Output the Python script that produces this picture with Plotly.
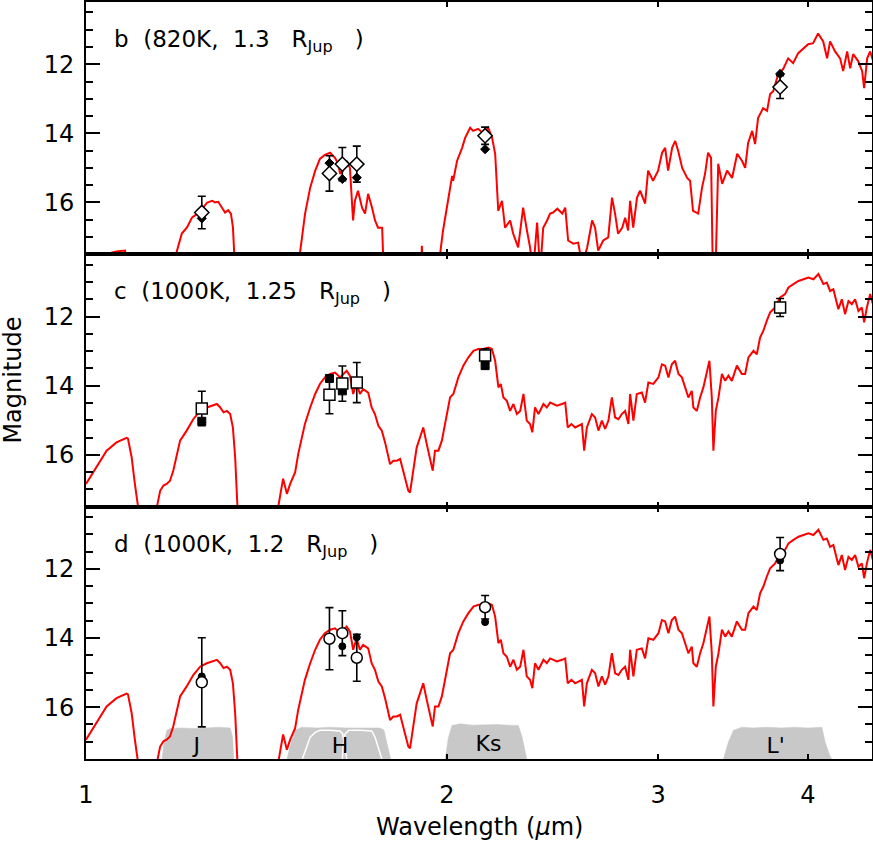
import plotly.graph_objects as go
from plotly.subplots import make_subplots

# ---------------- model spectra (wavelength in micron, magnitude) ----------------
wl_b = [1.000, 1.045, 1.051, 1.063, 1.078, 1.083, 1.185, 1.189, 1.202, 1.214,
        1.226, 1.238, 1.249, 1.262, 1.274, 1.281, 1.289, 1.299, 1.306, 1.314,
        1.321, 1.326, 1.331, 1.336, 1.503, 1.508, 1.523, 1.538, 1.553, 1.567,
        1.582, 1.598, 1.613, 1.623, 1.629, 1.638, 1.650, 1.660, 1.670, 1.676,
        1.686, 1.699, 1.709, 1.719, 1.732, 1.742, 1.752, 1.766, 1.769, 1.773,
        1.899, 1.906, 1.912, 1.970, 1.974, 1.985, 2.004, 2.020, 2.024, 2.039,
        2.059, 2.071, 2.091, 2.103, 2.123, 2.143, 2.165, 2.181, 2.194, 2.207,
        2.223, 2.236, 2.258, 2.271, 2.293, 2.315, 2.332, 2.346, 2.360, 2.378,
        2.392, 2.406, 2.424, 2.438, 2.452, 2.472, 2.496, 2.510, 2.524, 2.549,
        2.573, 2.593, 2.618, 2.643, 2.658, 2.674, 2.700, 2.726, 2.746, 2.762,
        2.778, 2.800, 2.816, 2.832, 2.843, 2.860, 2.881, 2.898, 2.926, 2.943,
        2.971, 3.000, 3.023, 3.041, 3.058, 3.082, 3.100, 3.118, 3.142, 3.172,
        3.190, 3.208, 3.240, 3.264, 3.283, 3.302, 3.321, 3.334, 3.347, 3.367,
        3.393, 3.425, 3.458, 3.492, 3.525, 3.546, 3.566, 3.594, 3.614, 3.635,
        3.670, 3.698, 3.720, 3.742, 3.778, 3.814, 3.851, 3.888, 3.926, 3.964,
        4.002, 4.040, 4.079, 4.119, 4.150, 4.174, 4.214, 4.255, 4.280, 4.313,
        4.338, 4.363, 4.405, 4.439, 4.456, 4.482, 4.508, 4.534]
mag_b = [19.0, 19.0, 17.45, 17.41, 17.39, 19.0, 19.0, 17.48, 16.90, 16.72,
         16.43, 16.33, 16.20, 16.00, 15.95, 16.00, 15.98, 16.15, 16.29, 16.22,
         16.33, 16.72, 17.48, 19.0, 19.0, 17.48, 16.32, 15.57, 15.08, 14.74,
         14.62, 14.56, 14.71, 14.88, 15.17, 15.08, 14.80, 15.00, 16.52, 15.95,
         15.66, 16.15, 16.32, 15.75, 16.15, 16.52, 16.73, 16.73, 17.48, 19.0,
         19.0, 17.25, 19.0, 19.0, 17.48, 16.81, 15.95, 15.23, 15.37, 14.80,
         14.42, 14.13, 13.84, 13.93, 13.87, 13.99, 13.84, 14.13, 14.59, 16.24,
         15.95, 16.73, 16.52, 16.90, 17.30, 16.15, 16.81, 17.30, 18.0, 16.58,
         18.0, 16.73, 16.52, 16.32, 16.29, 16.18, 16.32, 16.15, 17.10, 17.19,
         17.16, 17.8, 17.30, 16.52, 16.73, 17.39, 17.10, 17.01, 15.86, 16.32,
         16.90, 16.73, 16.44, 16.81, 15.95, 16.73, 15.86, 15.66, 16.03, 15.08,
         15.37, 15.08, 14.56, 14.42, 15.08, 14.42, 14.22, 14.51, 15.00, 15.29,
         15.37, 16.24, 16.32, 15.57, 15.17, 14.56, 14.71, 18.5, 18.5, 14.88,
         15.46, 15.08, 15.29, 14.59, 14.80, 15.00, 14.28, 13.93, 14.31, 13.56,
         13.27, 13.35, 12.86, 12.78, 12.29, 12.14, 11.83, 11.97, 11.68, 11.54,
         11.42, 11.39, 11.11, 11.34, 11.83, 11.34, 11.63, 11.83, 12.20, 11.63,
         12.12, 11.71, 11.91, 12.20, 12.69, 11.83, 11.63, 11.91]

wl_cd = [1.000, 1.0205, 1.0404, 1.0603, 1.0811, 1.0839, 1.0916, 1.0984, 1.1053, 1.110,
         1.142, 1.1457, 1.153, 1.1603, 1.1676, 1.175, 1.1824, 1.198, 1.2133, 1.2287,
         1.245, 1.261, 1.2732, 1.2858, 1.294, 1.3022, 1.3107, 1.319, 1.3259, 1.3317,
         1.3376, 1.342, 1.442, 1.4462, 1.4601, 1.4707, 1.480, 1.4942, 1.503, 1.513,
         1.5225, 1.538, 1.5528, 1.567, 1.582, 1.598, 1.6133, 1.629, 1.6393, 1.6495,
         1.660, 1.6705, 1.6813, 1.692, 1.7027, 1.7193, 1.7307, 1.7416, 1.7532, 1.7648,
         1.7759, 1.793, 1.8043, 1.8165, 1.828, 1.8395, 1.8569, 1.863, 1.8747, 1.887,
         1.899, 1.911, 1.9238, 1.936, 1.9461, 1.9546, 1.9675, 1.9805, 1.993, 2.012,
         2.0247, 2.0442, 2.0639, 2.0841, 2.1042, 2.124, 2.1444, 2.1658, 2.1802, 2.1939,
         2.2077, 2.2179, 2.229, 2.2438, 2.258, 2.2722, 2.2875, 2.302, 2.3165, 2.3312,
         2.346, 2.3563, 2.3685, 2.3841, 2.4071, 2.4226, 2.438, 2.4534, 2.4703, 2.4942,
         2.5099, 2.522, 2.540, 2.5583, 2.575, 2.5915, 2.6029, 2.6164, 2.6417, 2.6583,
         2.6751, 2.6929, 2.7098, 2.727, 2.745, 2.7623, 2.7798, 2.7982, 2.8158, 2.8336,
         2.843, 2.8609, 2.8797, 2.9076, 2.9258, 2.9443, 2.9726, 3.002, 3.0219, 3.0409,
         3.0599, 3.0801, 3.0995, 3.1197, 3.1403, 3.160, 3.1795, 3.2005, 3.2101, 3.2315,
         3.252, 3.2725, 3.2941, 3.3107, 3.3259, 3.3359, 3.3515, 3.3688, 3.3911, 3.4125,
         3.4336, 3.4564, 3.4899, 3.5236, 3.5457, 3.5682, 3.6026, 3.626, 3.649, 3.672,
         3.6966, 3.720, 3.7557, 3.792, 3.8284, 3.8532, 3.8904, 3.928, 3.9658, 4.0037,
         4.0423, 4.0815, 4.1208, 4.1477, 4.174, 4.2003, 4.241, 4.269, 4.2958, 4.3237,
         4.3523, 4.3796, 4.4074, 4.4366, 4.456, 4.4796, 4.508, 4.5314]
mag_c = [16.84, 16.36, 15.88, 15.64, 15.51, 15.53, 16.07, 16.84, 17.52, 18.5,
         18.5, 17.52, 17.04, 16.89, 16.84, 16.75, 16.46, 15.59, 15.30, 14.97,
         14.73, 14.63, 14.58, 14.53, 14.63, 14.77, 14.73, 14.82, 15.21, 16.08,
         17.52, 18.5, 18.5, 17.52, 16.69, 17.13, 16.84, 16.51, 15.98, 15.50,
         15.11, 14.63, 14.24, 13.95, 13.76, 13.66, 13.62, 13.76, 13.66, 13.57,
         13.71, 14.24, 13.91, 14.24, 14.10, 14.20, 14.63, 14.82, 15.16, 15.30,
         15.64, 16.27, 16.17, 16.17, 16.12, 16.46, 17.04, 17.09, 16.46, 15.79,
         15.50, 15.21, 15.69, 16.08, 16.46, 15.88, 15.88, 15.59, 15.11, 14.34,
         14.24, 13.76, 13.42, 13.18, 12.99, 12.94, 12.94, 12.90, 12.94, 13.28,
         14.05, 13.95, 14.34, 14.44, 14.73, 14.53, 14.82, 14.73, 14.24, 15.01,
         15.11, 15.35, 14.63, 14.82, 14.53, 14.63, 14.49, 14.53, 14.58, 14.53,
         14.49, 15.21, 15.11, 15.21, 15.15, 15.11, 15.88, 15.21, 14.82, 14.92,
         15.30, 15.01, 15.25, 15.01, 14.34, 14.92, 14.97, 14.82, 14.73, 15.11,
         14.24, 15.01, 14.24, 14.20, 14.49, 13.91, 13.95, 13.76, 13.38, 13.42,
         13.76, 13.38, 13.28, 13.66, 13.76, 14.05, 14.34, 14.15, 14.63, 14.73,
         14.34, 14.05, 13.66, 13.28, 14.34, 15.88, 14.73, 14.34, 13.66, 13.86,
         13.71, 13.86, 13.42, 13.66, 13.66, 13.18, 12.99, 13.09, 12.61, 12.41,
         12.12, 11.88, 11.74, 11.45, 11.35, 11.16, 11.06, 10.97, 10.92, 10.87,
         10.92, 10.77, 11.06, 11.02, 11.26, 11.21, 11.79, 11.50, 11.93, 11.55,
         11.64, 11.50, 11.84, 11.74, 12.17, 11.74, 11.35, 11.64]
mag_d = [16.94, 16.46, 15.98, 15.74, 15.61, 15.63, 16.17, 16.94, 17.62, 18.5,
         18.5, 17.62, 17.14, 16.99, 16.94, 16.85, 16.56, 15.69, 15.40, 15.07,
         14.83, 14.73, 14.68, 14.63, 14.73, 14.87, 14.83, 14.92, 15.31, 16.18,
         17.62, 18.5, 18.5, 17.62, 16.79, 17.23, 16.94, 16.61, 16.08, 15.60,
         15.21, 14.73, 14.34, 14.05, 13.86, 13.76, 13.72, 13.86, 13.76, 13.67,
         13.81, 14.34, 14.01, 14.34, 14.20, 14.30, 14.73, 14.92, 15.26, 15.40,
         15.74, 16.37, 16.27, 16.27, 16.22, 16.56, 17.14, 17.19, 16.56, 15.89,
         15.60, 15.31, 15.79, 16.18, 16.56, 15.98, 15.98, 15.69, 15.21, 14.44,
         14.34, 13.86, 13.52, 13.28, 13.09, 13.04, 13.04, 13.00, 13.04, 13.38,
         14.15, 14.05, 14.44, 14.54, 14.83, 14.63, 14.92, 14.83, 14.34, 15.11,
         15.21, 15.45, 14.73, 14.92, 14.63, 14.73, 14.59, 14.63, 14.68, 14.63,
         14.59, 15.31, 15.21, 15.31, 15.25, 15.21, 15.98, 15.31, 14.92, 15.02,
         15.40, 15.11, 15.35, 15.11, 14.44, 15.02, 15.07, 14.92, 14.83, 15.21,
         14.34, 15.11, 14.34, 14.30, 14.59, 14.01, 14.05, 13.86, 13.48, 13.52,
         13.86, 13.48, 13.38, 13.76, 13.86, 14.15, 14.44, 14.25, 14.73, 14.83,
         14.44, 14.15, 13.76, 13.38, 14.44, 15.98, 14.83, 14.44, 13.76, 13.96,
         13.81, 13.96, 13.52, 13.76, 13.76, 13.28, 13.09, 13.19, 12.71, 12.51,
         12.22, 11.98, 11.84, 11.55, 11.45, 11.26, 11.16, 11.07, 11.02, 10.97,
         11.02, 10.87, 11.16, 11.12, 11.36, 11.31, 11.89, 11.60, 12.03, 11.65,
         11.74, 11.60, 11.94, 11.84, 12.27, 11.84, 11.45, 11.74]

# ---------------- photometry ----------------
phot_wl = [1.249, 1.596, 1.636, 1.682, 2.152, 3.792]
b_open = [16.29, 15.16, 14.89, 14.89, 14.07, 12.66]
b_err = [0.47, 0.51, 0.48, 0.52, 0.25, 0.33]
b_fill = [16.46, 14.86, 15.32, 15.28, 14.46, 12.28]
c_open = [14.66, 14.26, 13.94, 13.91, 13.13, 11.74]
c_err = [0.50, 0.55, 0.51, 0.58, 0.20, 0.26]
c_fill = [15.03, 13.79, 14.15, 13.93, 13.42, 11.78]
d_open = [15.28, 14.02, 13.86, 14.57, 13.11, 11.57]
d_err = [1.29, 0.90, 0.65, 0.68, 0.34, 0.48]
d_fill = [15.11, 13.98, 14.24, 13.98, 13.54, 11.76]

# ---------------- filter profiles (panel d) ----------------
filt_J_wl = [1.157, 1.162, 1.168, 1.175, 1.20, 1.23, 1.26, 1.29, 1.319, 1.325, 1.328]
filt_J_mag = [17.5, 17.0, 16.67, 16.62, 16.60, 16.62, 16.60, 16.58, 16.60, 16.85, 17.5]
filt_H_wl = [1.471, 1.482, 1.494, 1.513, 1.560, 1.598, 1.650, 1.703, 1.759, 1.772, 1.781, 1.790, 1.795]
filt_H_mag = [17.5, 17.05, 16.67, 16.58, 16.60, 16.58, 16.60, 16.60, 16.60, 16.66, 16.97, 17.35, 17.5]
filt_H1_wl = [1.515, 1.528, 1.538, 1.553, 1.567, 1.598, 1.629, 1.637, 1.642, 1.648, 1.650]
filt_H1_mag = [17.5, 17.16, 16.87, 16.73, 16.67, 16.67, 16.69, 16.77, 17.06, 17.45, 17.5]
filt_H2_wl = [1.636, 1.639, 1.645, 1.657, 1.692, 1.731, 1.742, 1.753, 1.761, 1.765]
filt_H2_mag = [17.5, 17.06, 16.77, 16.67, 16.67, 16.69, 16.87, 17.20, 17.45, 17.5]
filt_K_wl = [1.993, 2.005, 2.019, 2.035, 2.051, 2.10, 2.15, 2.20, 2.25, 2.294, 2.310, 2.324, 2.331]
filt_K_mag = [17.5, 16.90, 16.53, 16.50, 16.48, 16.52, 16.50, 16.50, 16.52, 16.53, 16.85, 17.35, 17.5]
filt_L_wl = [3.401, 3.434, 3.467, 3.524, 3.60, 3.70, 3.80, 3.90, 4.00, 4.109, 4.134, 4.174, 4.188]
filt_L_mag = [17.5, 17.0, 16.67, 16.58, 16.60, 16.58, 16.60, 16.58, 16.60, 16.58, 17.0, 17.42, 17.5]
filt_labels = ["J", "H", "Ks", "L'"]
filt_label_wl = [1.237, 1.629, 2.166, 3.76]
filt_label_mag = [17.16, 17.16, 17.12, 17.16]

SP = "\u00a0"
panel_titles = [f"b{SP*2}(820K,{SP*2}1.3{SP*3}R<sub>Jup</sub>{SP*3})",
                f"c{SP*2}(1000K,{SP*2}1.25{SP*3}R<sub>Jup</sub>{SP*3})",
                f"d{SP*2}(1000K,{SP*2}1.2{SP*3}R<sub>Jup</sub>{SP*3})"]

FONT = "DejaVu Sans"
GRAY = "rgb(200,200,200)"

fig = make_subplots(rows=3, cols=1, shared_xaxes=True, vertical_spacing=0)

# filter profiles in bottom panel
for fw, fm in [(filt_J_wl, filt_J_mag), (filt_H_wl, filt_H_mag),
               (filt_K_wl, filt_K_mag), (filt_L_wl, filt_L_mag)]:
    fig.add_trace(go.Scatter(x=fw, y=fm, mode="lines", fill="toself",
                             fillcolor=GRAY, line=dict(color=GRAY, width=0.5),
                             hoverinfo="skip"), row=3, col=1)
for fw, fm in [(filt_H1_wl, filt_H1_mag), (filt_H2_wl, filt_H2_mag)]:
    fig.add_trace(go.Scatter(x=fw, y=fm, mode="lines",
                             line=dict(color="white", width=1.5),
                             hoverinfo="skip"), row=3, col=1)
fig.add_trace(go.Scatter(x=filt_label_wl, y=filt_label_mag, mode="text",
                         text=filt_labels, textposition="middle center",
                         textfont=dict(family=FONT, size=22, color="black")),
              row=3, col=1)

spectra = [(wl_b, mag_b), (wl_cd, mag_c), (wl_cd, mag_d)]
phot = [(b_open, b_err, b_fill, "diamond", 11, 7),
        (c_open, c_err, c_fill, "square", 11, 8),
        (d_open, d_err, d_fill, "circle", 11, 7)]

for i in range(3):
    w, m = spectra[i]
    fig.add_trace(go.Scatter(x=w, y=m, mode="lines",
                             line=dict(color="#ff0000", width=2)), row=i + 1, col=1)
    op, er, fl, sym, so, sf = phot[i]
    fig.add_trace(go.Scatter(x=phot_wl, y=fl, mode="markers",
                             marker=dict(symbol=sym, size=sf, color="black",
                                         line=dict(color="black", width=1))),
                  row=i + 1, col=1)
    fig.add_trace(go.Scatter(x=phot_wl, y=op, mode="markers",
                             error_y=dict(type="data", array=er, visible=True,
                                          color="black", thickness=1.6, width=4),
                             marker=dict(symbol=sym, size=so, color="white",
                                         line=dict(color="black", width=1.5))),
                  row=i + 1, col=1)

for i, t in enumerate(panel_titles):
    fig.add_annotation(text=t, xref="x domain" if i == 0 else f"x{i+1} domain",
                       yref="y domain" if i == 0 else f"y{i+1} domain",
                       x=0.033, y=0.845, xanchor="left", yanchor="middle",
                       showarrow=False, font=dict(family=FONT, size=23, color="black"))

fig.add_annotation(text="Magnitude", xref="paper", yref="paper", x=-0.094, y=0.5,
                   textangle=-90, showarrow=False, xanchor="center", yanchor="middle",
                   font=dict(family=FONT, size=24, color="black"))
fig.add_annotation(text="Wavelength (<i>μ</i>m)", xref="paper", yref="paper",
                   x=0.5, y=-0.0898, showarrow=False, xanchor="center", yanchor="middle",
                   font=dict(family=FONT, size=24, color="black"))

fig.update_xaxes(type="log", range=[0, 0.6555], tickmode="array",
                 tickvals=[1, 2, 3, 4], ticktext=["1", "2", "3", "4"],
                 ticks="inside", ticklen=5, tickwidth=1.5, tickcolor="black",
                 showline=True, linewidth=1.7, linecolor="black", mirror="ticks",
                 showgrid=False, zeroline=False, automargin=False, ticklabelstandoff=13,
                 tickfont=dict(family=FONT, size=24, color="black"))
fig.update_yaxes(range=[17.5, 10.2], tickmode="linear", tick0=0, dtick=2,
                 ticks="inside", ticklen=14, tickwidth=1.5, tickcolor="black",
                 minor=dict(tickmode="linear", tick0=0, dtick=0.5, ticks="inside",
                            ticklen=7, tickwidth=1.5, tickcolor="black", showgrid=False),
                 showline=True, linewidth=1.7, linecolor="black", mirror="ticks",
                 showgrid=False, zeroline=False, ticklabelstandoff=5, automargin=False,
                 tickfont=dict(family=FONT, size=24, color="black"))

fig.update_layout(width=873, height=842, margin=dict(l=86, r=1, t=2, b=83, autoexpand=False),
                  plot_bgcolor="white", paper_bgcolor="white", showlegend=False,
                  font=dict(family=FONT, size=24, color="black"))

fig.write_html("out.html", config={"displayModeBar": False},
               post_script="document.body.style.margin='0px';document.body.style.overflow='hidden';")
